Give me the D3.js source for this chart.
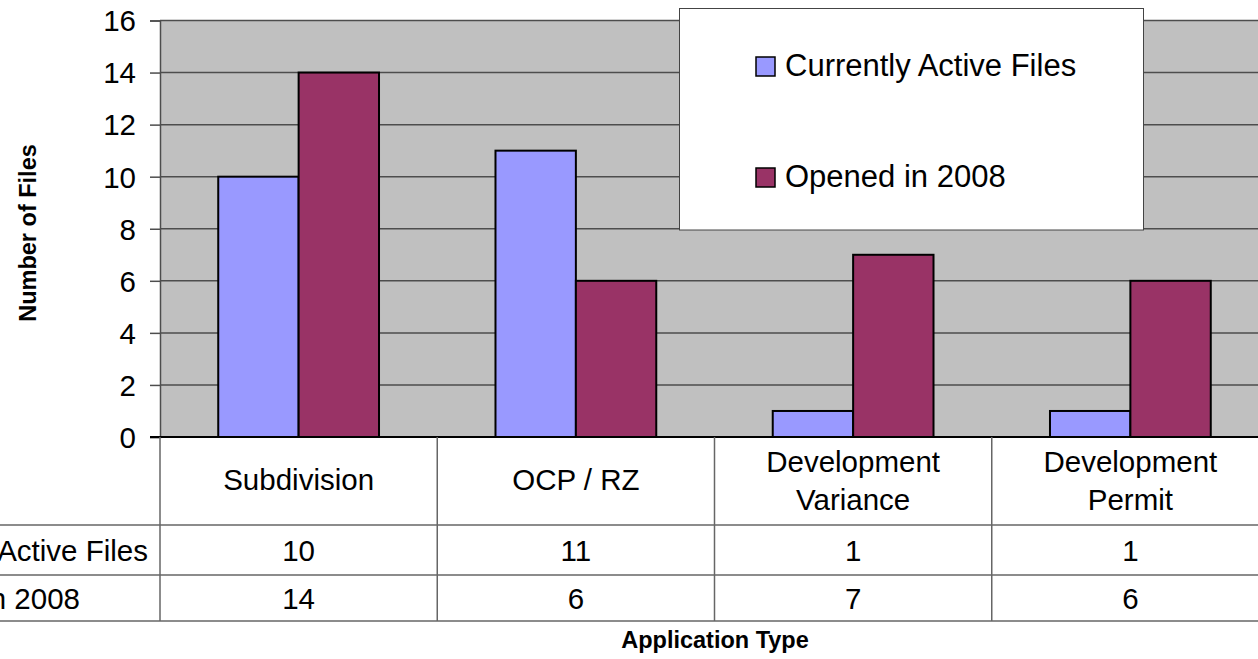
<!DOCTYPE html>
<html>
<head>
<meta charset="utf-8">
<script src="https://cdn.jsdelivr.net/npm/d3@7"></script>
<style>
  html, body { margin: 0; padding: 0; background: #fff; overflow: hidden; }
  svg { display: block; font-family: "Liberation Sans", Arial, sans-serif; }
</style>
</head>
<body>
<svg id="chart" width="1258" height="659"></svg>
<script>
// ---- data ----
const categories = [["Subdivision"], ["OCP / RZ"], ["Development", "Variance"], ["Development", "Permit"]];
const categoryKeys = ["Subdivision", "OCP / RZ", "Development Variance", "Development Permit"];
const seriesNames = ["Currently Active Files", "Opened in 2008"];
const activeFiles = [10, 11, 1, 1];
const opened2008 = [14, 6, 7, 6];
const yTicks = [0, 2, 4, 6, 8, 10, 12, 14, 16];
const seriesColors = ["#9999FF", "#993366"];

const svg = d3.select("#chart");
const plot = { left: 160, right: 1269, top: 20.5, bottom: 437 };

const x = d3.scaleBand().domain(categoryKeys).range([plot.left, plot.right]).paddingInner(0).paddingOuter(0);
const xs = d3.scaleBand().domain(seriesNames).range([0, x.bandwidth()]).paddingInner(0).paddingOuter(0.7245);
const y = d3.scaleLinear().domain([0, 16]).range([plot.bottom, plot.top]);

// plot background
svg.append("rect").attr("x", plot.left).attr("y", plot.top)
  .attr("width", plot.right - plot.left).attr("height", plot.bottom - plot.top)
  .attr("fill", "#C0C0C0");

// gridlines
svg.append("g").selectAll("line").data(yTicks.filter(d => d > 0)).join("line")
  .attr("x1", plot.left).attr("x2", plot.right)
  .attr("y1", d => y(d)).attr("y2", d => y(d))
  .attr("stroke", "#4d4d4d").attr("stroke-width", 1.5);

// y axis
const yAxis = d3.axisLeft(y).tickValues(yTicks).tickSize(10).tickPadding(14).tickFormat(d3.format("d"));
const yg = svg.append("g").attr("transform", `translate(${plot.left},0)`).call(yAxis);
yg.select(".domain").attr("stroke", "#4d4d4d").attr("stroke-width", 1.5);
yg.selectAll(".tick line").attr("stroke", "#4d4d4d").attr("stroke-width", 1.5);
yg.selectAll(".tick text").attr("font-size", 29.5).attr("fill", "#000")
  .attr("font-family", "Liberation Sans, Arial, sans-serif").attr("dy", "0.35em");

// bars
const rows = categoryKeys.map((k, i) => ({ key: k, vals: [activeFiles[i], opened2008[i]] }));
const groups = svg.append("g").selectAll("g").data(rows).join("g")
  .attr("transform", d => `translate(${x(d.key)},0)`);
groups.selectAll("rect").data(d => d.vals.map((v, j) => ({ name: seriesNames[j], v, j }))).join("rect")
  .attr("x", d => xs(d.name)).attr("width", xs.bandwidth())
  .attr("y", d => y(d.v)).attr("height", d => y(0) - y(d.v))
  .attr("fill", d => seriesColors[d.j]).attr("stroke", "#000").attr("stroke-width", 2);

// x axis line (bottom of plot)
svg.append("line").attr("x1", plot.left - 10).attr("x2", plot.right)
  .attr("y1", y(0)).attr("y2", y(0)).attr("stroke", "#000").attr("stroke-width", 2);

// data table
const tbl = svg.append("g").attr("stroke", "#666").attr("stroke-width", 1.5);
[525, 575, 621].forEach(yy => tbl.append("line").attr("x1", 0).attr("x2", 1258).attr("y1", yy).attr("y2", yy));
const bounds = categoryKeys.map(k => x(k)).concat([plot.right]);
tbl.selectAll("line.v").data(bounds).join("line").attr("class", "v")
  .attr("x1", d => d).attr("x2", d => d).attr("y1", 437).attr("y2", 621);

const txt = svg.append("g").attr("font-size", 29.5).attr("fill", "#000").attr("text-anchor", "middle");
categories.forEach((lines, i) => {
  const cx = x(categoryKeys[i]) + x.bandwidth() / 2;
  if (lines.length === 1) {
    txt.append("text").attr("x", cx).attr("y", 490).text(lines[0]);
  } else {
    txt.append("text").attr("x", cx).attr("y", 472).text(lines[0]);
    txt.append("text").attr("x", cx).attr("y", 510).text(lines[1]);
  }
  txt.append("text").attr("x", cx).attr("y", 561).text(activeFiles[i]);
  txt.append("text").attr("x", cx).attr("y", 609).text(opened2008[i]);
});
// row labels
txt.append("text").attr("x", 148).attr("y", 561).attr("text-anchor", "end").text(seriesNames[0]);
txt.append("text").attr("x", 80).attr("y", 609).attr("text-anchor", "end").text(seriesNames[1]);

// axis titles
svg.append("text").attr("transform", "translate(36,233) rotate(-90)")
  .attr("text-anchor", "middle").attr("font-size", 23.5).attr("font-weight", "bold").text("Number of Files");
svg.append("text").attr("x", 715).attr("y", 648)
  .attr("text-anchor", "middle").attr("font-size", 23.5).attr("font-weight", "bold").text("Application Type");

// legend
const lg = svg.append("g");
lg.append("rect").attr("x", 679.5).attr("y", 8.5).attr("width", 464).attr("height", 221.5)
  .attr("fill", "#fff").attr("stroke", "#444").attr("stroke-width", 1);
const legendY = [76, 187];
seriesNames.forEach((n, i) => {
  lg.append("rect").attr("x", 756).attr("y", legendY[i] - 19).attr("width", 19).attr("height", 19)
    .attr("fill", seriesColors[i]).attr("stroke", "#000").attr("stroke-width", 1.5);
  lg.append("text").attr("x", 785).attr("y", legendY[i]).attr("font-size", 31).attr("fill", "#000").text(n);
});
</script>
</body>
</html>
